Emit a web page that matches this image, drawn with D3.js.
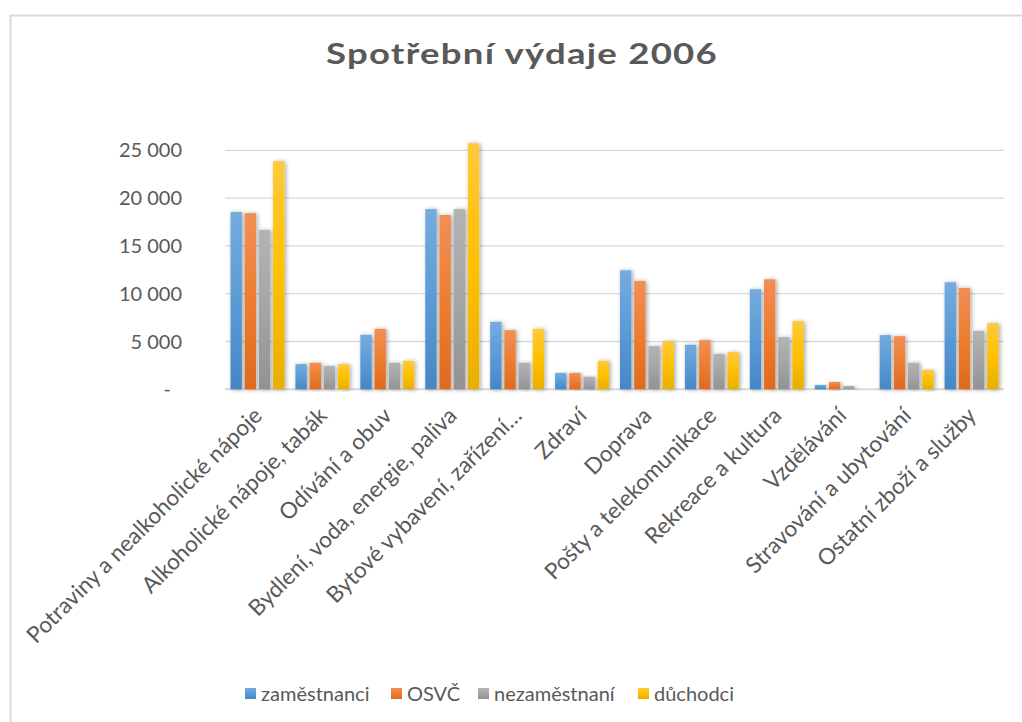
<!DOCTYPE html>
<html><head><meta charset="utf-8">
<script src="https://cdn.jsdelivr.net/npm/d3@7"></script>
<style>
html,body{margin:0;padding:0;background:#fff;}
svg text{font-family:Lato,"Open Sans",sans-serif;}
</style></head>
<body>
<svg id="chart" width="1022" height="722"></svg>
<script>
const categories = ["Potraviny a nealkoholické nápoje","Alkoholické nápoje, tabák","Odívání a obuv","Bydlení, voda, energie, paliva","Bytové vybavení, zařízení…","Zdraví","Doprava","Pošty a telekomunikace","Rekreace a kultura","Vzdělávání","Stravování a ubytování","Ostatní zboží a služby"];
const seriesNames = ["zaměstnanci","OSVČ","nezaměstnaní","důchodci"];
const zamestnanci  = [18540, 2640, 5700, 18850, 7060, 1700, 12450, 4660, 10470, 450, 5670, 11200];
const osvc         = [18430, 2780, 6330, 18230, 6190, 1700, 11340, 5150, 11510, 760, 5560, 10610];
const nezamestnani = [16660, 2430, 2780, 18850, 2780, 1320, 4520, 3690, 5460, 340, 2780, 6090];
const duchodci     = [23860, 2640, 2990, 25740, 6330, 2990, 5040, 3890, 7130, 0, 2020, 6920];
const yTicks = [0, 5000, 10000, 15000, 20000, 25000];
const colors = ["#5B9BD5","#ED7D31","#A5A5A5","#FFC000"];
const topColors = ["#74ABDF","#F28F55","#B3B3B3","#FFC93C"];
const botColors = ["#4686C6","#DF6A1E","#929292","#E8AF00"];

const seriesValues = [zamestnanci, osvc, nezamestnani, duchodci];
const svg = d3.select("#chart");
const defs = svg.append("defs");
seriesNames.forEach((s,i)=>{
  const g = defs.append("linearGradient").attr("id","g"+i).attr("x1",0).attr("y1",0).attr("x2",0).attr("y2",1);
  g.append("stop").attr("offset","0%").attr("stop-color",topColors[i]);
  g.append("stop").attr("offset","50%").attr("stop-color",colors[i]);
  g.append("stop").attr("offset","100%").attr("stop-color",botColors[i]);
});
const f = defs.append("filter").attr("id","shadow").attr("x","-50%").attr("y","-10%").attr("width","200%").attr("height","120%");
f.append("feDropShadow").attr("dx",1.5).attr("dy",0.5).attr("stdDeviation",2).attr("flood-color","#000").attr("flood-opacity",0.35);

// chart border
svg.append("rect").attr("x",10.5).attr("y",15.5).attr("width",1040).attr("height",720)
  .attr("fill","none").attr("stroke","#d9d9d9").attr("stroke-width",2);

const x0 = d3.scaleBand().domain(categories).range([225,1004]).padding(0);
const x1 = d3.scaleBand().domain(seriesNames).range([5.5, x0.bandwidth()-5.5]).paddingInner(0.2);
const y = d3.scaleLinear().domain([0,25000]).range([389.3,150.3]);

// gridlines
svg.append("g").selectAll("line").data(yTicks).join("line")
  .attr("x1",225).attr("x2",1004)
  .attr("y1",d=>y(d)).attr("y2",d=>y(d))
  .attr("stroke","#d9d9d9").attr("stroke-width",d=>d===0?2:1.3);

// y labels
svg.append("g").selectAll("text").data(yTicks).join("text")
  .attr("x",d=>d===0?171:182).attr("y",d=>y(d)+7)
  .attr("text-anchor","end").attr("font-size",20).attr("fill","#595959")
  .text(d=>d===0?"-":d3.format(",")(d).replace(/,/g," "));

// bars
const groups = svg.append("g").selectAll("g").data(categories).join("g")
  .attr("transform",d=>`translate(${x0(d)},0)`);
groups.selectAll("rect").data((c,ci)=>seriesNames.map((s,si)=>({s,si,v:seriesValues[si][ci]}))).join("rect")
  .filter(d=>d.v>0)
  .attr("x",d=>x1(d.s)).attr("width",x1.bandwidth())
  .attr("y",d=>y(d.v)).attr("height",d=>y(0)-y(d.v))
  .attr("fill",d=>`url(#g${d.si})`).attr("filter","url(#shadow)");

// x labels
svg.append("g").selectAll("text").data(categories).join("text")
  .attr("transform",d=>`translate(${x0(d)+x0.bandwidth()/2+6},${417}) rotate(-45)`)
  .attr("text-anchor","end").attr("font-size",22.5).attr("fill","#595959")
  .text(d=>d);

// title
svg.append("text").attr("transform","translate(522,64) scale(1.26,1)").attr("text-anchor","middle")
  .attr("font-family","'Open Sans',sans-serif")
  .attr("font-size",29).attr("font-weight","bold").attr("fill","#595959")
  .attr("letter-spacing",1)
  .text("Spotřební výdaje 2006");

// legend
const legX = [245, 391, 478, 638];
const leg = svg.append("g").selectAll("g").data(seriesNames).join("g")
  .attr("transform",(d,i)=>`translate(${legX[i]},688)`);
leg.append("rect").attr("width",11).attr("height",11).attr("fill",(d,i)=>`url(#g${i})`);
leg.append("text").attr("x",16).attr("y",13).attr("font-size",20).attr("fill","#595959").text(d=>d);
</script>
</body></html>
